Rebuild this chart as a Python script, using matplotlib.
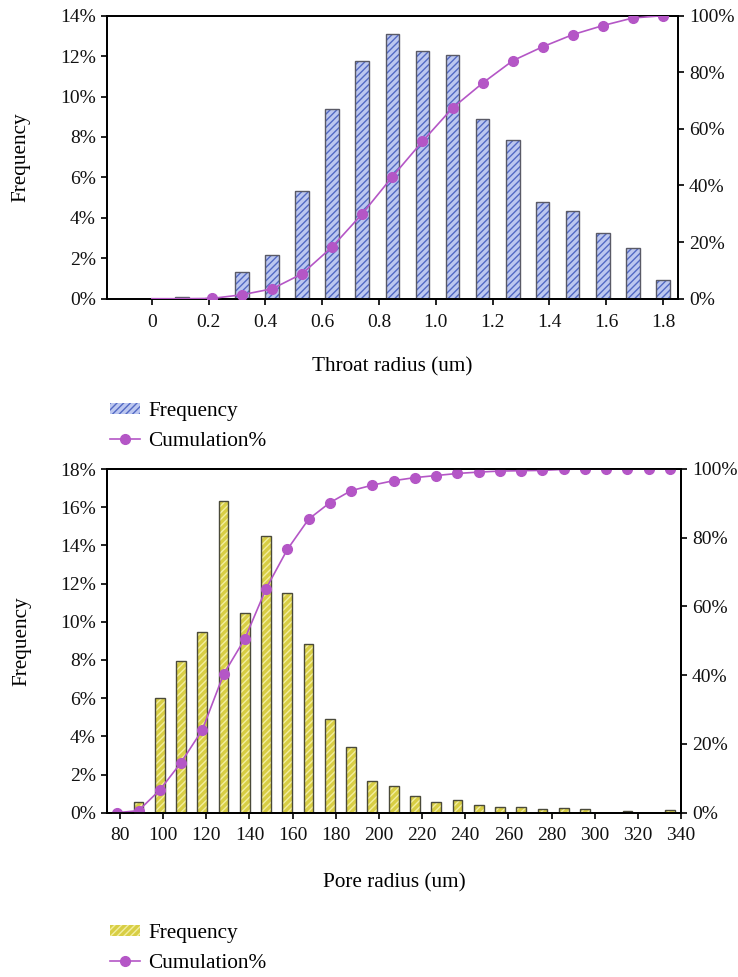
import matplotlib
matplotlib.use('Agg')
import matplotlib.pyplot as plt
from matplotlib.patches import Patch
from matplotlib.lines import Line2D

# throat radius chart (um, bin positions on the 0-1.8 axis)
throat_r = [0.0, 0.106, 0.212, 0.318, 0.424, 0.529, 0.635, 0.741, 0.847,
            0.953, 1.059, 1.165, 1.271, 1.376, 1.482, 1.588, 1.694, 1.8]
throat_freq = [0.0, 0.10, 0.05, 1.34, 2.18, 5.33, 9.39, 11.75, 13.10,
               12.24, 12.08, 8.90, 7.87, 4.79, 4.36, 3.27, 2.49, 0.93]
throat_cum = [0.0, 0.0, 0.1, 1.4, 3.5, 8.8, 18.3, 30.0, 43.1,
              55.6, 67.4, 76.2, 84.1, 89.0, 93.3, 96.5, 99.2, 100.0]
throat_ticks = [0, 0.2, 0.4, 0.6, 0.8, 1.0, 1.2, 1.4, 1.6, 1.8]
throat_ticklabels = ['0', '0.2', '0.4', '0.6', '0.8', '1.0', '1.2', '1.4', '1.6', '1.8']

# pore radius chart (um)
pore_r = [80, 90, 100, 110, 120, 130, 140, 150, 160, 170, 180, 190, 200, 210,
          220, 230, 240, 250, 260, 270, 280, 290, 300, 310, 320, 330, 340]
pore_freq = [0.0, 0.58, 6.02, 7.96, 9.48, 16.31, 10.44, 14.51, 11.49, 8.82,
             4.89, 3.43, 1.68, 1.41, 0.89, 0.58, 0.65, 0.40, 0.30, 0.30,
             0.18, 0.23, 0.18, 0.0, 0.10, 0.0, 0.16]
pore_cum = [0.0, 0.6, 6.6, 14.6, 24.1, 40.3, 50.6, 65.2, 76.6, 85.4, 90.2,
            93.7, 95.3, 96.6, 97.5, 98.1, 98.7, 99.1, 99.4, 99.5, 99.6, 99.9,
            100.0, 100.0, 100.0, 100.0, 100.0]
pore_ticks = [80, 100, 120, 140, 160, 180, 200, 220, 240, 260, 280, 300, 320, 340]

plt.rcParams['font.family'] = ['Liberation Serif', 'DejaVu Serif']
plt.rcParams['font.size'] = 14
plt.rcParams['hatch.linewidth'] = 1.0

LINE = '#b456c6'
TXT = '#111111'
LABEL_FS = 15.3
TICK_FS = 14
HATCH = '/////'

BLUE_FACE, BLUE_HATCH = '#bcc7f0', '#5269c4'
YEL_FACE, YEL_HATCH = '#d8ce44', '#f2eea0'


def style_axes(*axes):
    for a in axes:
        for s in a.spines.values():
            s.set_linewidth(1.3)
        a.tick_params(direction='out', length=4, width=1.3, colors=TXT,
                      labelsize=TICK_FS, pad=4)


def hatched_bars(ax, x, h, width, face, hatch_col, edge):
    ax.bar(x, h, width=width, color=face, edgecolor=hatch_col,
           hatch=HATCH, linewidth=0, zorder=2)
    ax.bar(x, h, width=width, fill=False, edgecolor=edge, linewidth=1.0,
           zorder=3)


def pct(vals):
    return ['%d%%' % v for v in vals]


def add_legend(fig, face, hatch_col, top_px):
    fig.legend(handles=[Patch(facecolor=face, edgecolor=hatch_col,
                              hatch=HATCH, linewidth=0, label='Frequency'),
                        Line2D([], [], color=LINE, lw=1.2, marker='o', ms=7,
                               label='Cumulation%')],
               loc='upper left', bbox_to_anchor=(91 / 738, 1 - top_px / 977),
               frameon=False, fontsize=LABEL_FS, handlelength=1.4,
               handleheight=0.45, labelspacing=0.5, handletextpad=0.4)


fig = plt.figure(figsize=(7.38, 9.77), dpi=100)

# ---- top: throat radius ----
ax1 = fig.add_axes([107 / 738, 1 - 298.7 / 977, 571 / 738, 283 / 977])
hatched_bars(ax1, throat_r, throat_freq, 0.048, BLUE_FACE, BLUE_HATCH, '#5a5a66')
ax1.set_xlim(-0.158, 1.853)
ax1.set_ylim(0, 14)
ax1.set_yticks(range(0, 15, 2))
ax1.set_yticklabels(pct(range(0, 15, 2)))
ax1.set_xticks(throat_ticks)
ax1.set_xticklabels(throat_ticklabels)
ax1.set_ylabel('Frequency', fontsize=LABEL_FS)
ax1.yaxis.set_label_coords(-0.134, 0.5)
ax1.set_xlabel('Throat radius (um)', fontsize=LABEL_FS, labelpad=19)

ax1r = ax1.twinx()
ax1r.plot(throat_r, throat_cum, color=LINE, lw=1.2, marker='o', ms=7,
          markevery=list(range(2, len(throat_r))), zorder=4)
ax1r.set_ylim(0, 100)
ax1r.set_yticks(range(0, 101, 20))
ax1r.set_yticklabels(pct(range(0, 101, 20)))
style_axes(ax1, ax1r)
ax1.tick_params(axis='x', pad=7)

add_legend(fig, BLUE_FACE, BLUE_HATCH, 383)

# ---- bottom: pore radius ----
ax2 = fig.add_axes([107 / 738, 1 - 812.7 / 977, 574 / 738, 343.7 / 977])
hatched_bars(ax2, pore_r, pore_freq, 4.6, YEL_FACE, YEL_HATCH, '#4a4a3a')
ax2.set_xlim(75.15, 345.2)
ax2.set_ylim(0, 18)
ax2.set_yticks(range(0, 19, 2))
ax2.set_yticklabels(pct(range(0, 19, 2)))
ax2.set_xticks([])
ax2.set_ylabel('Frequency', fontsize=LABEL_FS)
ax2.yaxis.set_label_coords(-0.132, 0.5)

ax2r = ax2.twinx()
ax2r.plot(pore_r, pore_cum, color=LINE, lw=1.2, marker='o', ms=7, zorder=4)
ax2r.set_ylim(0, 100)
ax2r.set_yticks(range(0, 101, 20))
ax2r.set_yticklabels(pct(range(0, 101, 20)))

ax2t = ax2.twiny()
ax2t.set_xlim(74, 340)
ax2t.set_xticks(pore_ticks)
ax2t.xaxis.set_ticks_position('bottom')
ax2t.xaxis.set_label_position('bottom')
ax2t.set_xlabel('Pore radius (um)', fontsize=LABEL_FS, labelpad=21)
style_axes(ax2, ax2r, ax2t)
ax2t.tick_params(axis='x', pad=6)

add_legend(fig, YEL_FACE, YEL_HATCH, 905)

fig.savefig('out.png', dpi=100)
